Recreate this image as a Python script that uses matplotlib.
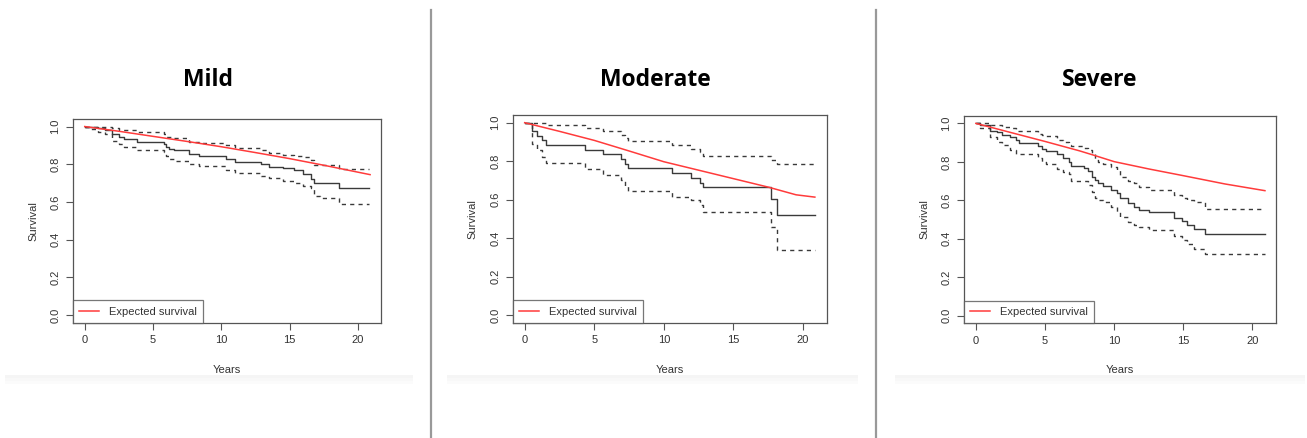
import matplotlib
matplotlib.use("Agg")
import matplotlib.pyplot as plt
from matplotlib.lines import Line2D
from matplotlib.patches import Rectangle

# ---------------- data ----------------
titles = ["Mild", "Moderate", "Severe"]
x_ticks = [0, 5, 10, 15, 20]
y_ticks = [0.0, 0.2, 0.4, 0.6, 0.8, 1.0]
y_ticklabels = ["0.0", "0.2", "0.4", "0.6", "0.8", "1.0"]

mild_t = [0, 0.3, 1.0, 1.5, 2.0, 2.5, 2.9, 3.85, 5.8, 5.95, 6.2, 6.55, 7.65, 8.4,
          10.35, 11.0, 12.9, 13.5, 14.5, 15.3, 16.0, 16.6, 16.8, 17.2, 18.6, 20.85]
mild_km = [1.0, 1.0, 0.99, 0.98, 0.96, 0.943, 0.935, 0.92, 0.908, 0.89, 0.88, 0.873, 0.855, 0.846,
           0.828, 0.814, 0.80, 0.788, 0.779, 0.77, 0.75, 0.72, 0.70, 0.70, 0.676, 0.676]
mild_lo = [1.0, 0.988, 0.97, 0.96, 0.925, 0.908, 0.894, 0.876, 0.864, 0.842, 0.828, 0.816, 0.80, 0.793,
           0.772, 0.754, 0.736, 0.726, 0.713, 0.70, 0.685, 0.672, 0.634, 0.62, 0.589, 0.589]
mild_hi = [1.0, 1.0, 1.0, 1.0, 0.99, 0.984, 0.984, 0.97, 0.961, 0.947, 0.942, 0.938, 0.92, 0.913,
           0.904, 0.885, 0.873, 0.86, 0.85, 0.845, 0.837, 0.82, 0.796, 0.796, 0.775, 0.775]
mild_exp_t = [0, 2.5, 5, 7.5, 10, 12.5, 15, 17.5, 20.9]
mild_exp = [1.0, 0.975, 0.948, 0.921, 0.893, 0.862, 0.83, 0.795, 0.745]

mod_t = [0, 0.5, 0.85, 1.25, 1.5, 4.3, 5.6, 6.9, 7.2, 7.4, 10.6, 11.95, 12.6, 12.8, 17.7, 18.1, 20.85]
mod_km = [1.0, 0.957, 0.93, 0.908, 0.886, 0.86, 0.836, 0.813, 0.787, 0.765, 0.74, 0.715, 0.689,
          0.666, 0.602, 0.519, 0.519]
mod_lo = [1.0, 0.891, 0.856, 0.822, 0.79, 0.761, 0.73, 0.70, 0.671, 0.644, 0.616, 0.597, 0.571,
          0.536, 0.458, 0.34, 0.34]
mod_hi = [1.0, 1.0, 1.0, 1.0, 0.986, 0.972, 0.957, 0.938, 0.92, 0.905, 0.886, 0.865, 0.85,
          0.827, 0.804, 0.784, 0.784]
mod_exp_t = [0, 2.5, 5, 7.5, 10, 12.5, 15, 17.5, 18.5, 19.5, 20.85]
mod_exp = [1.0, 0.955, 0.908, 0.853, 0.797, 0.753, 0.709, 0.665, 0.645, 0.625, 0.613]

sev_t = [0, 0.3, 1.0, 1.5, 1.9, 2.5, 2.9, 3.1, 4.5, 4.8, 5.1, 5.9, 6.3, 6.7, 6.9, 7.8, 8.1, 8.4,
         8.6, 8.8, 9.2, 9.8, 10.2, 10.4, 11.0, 11.4, 11.8, 12.5, 14.3, 14.9, 15.3, 15.8, 16.6, 20.9]
sev_km = [1.0, 0.99, 0.963, 0.953, 0.94, 0.927, 0.915, 0.897, 0.88, 0.868, 0.854, 0.84, 0.822,
          0.798, 0.78, 0.767, 0.753, 0.723, 0.706, 0.688, 0.676, 0.653, 0.636, 0.613, 0.584,
          0.563, 0.552, 0.537, 0.51, 0.493, 0.47, 0.448, 0.422, 0.422]
sev_lo = [1.0, 0.975, 0.927, 0.902, 0.888, 0.862, 0.84, 0.84, 0.819, 0.80, 0.787, 0.761, 0.745,
          0.735, 0.70, 0.70, 0.68, 0.645, 0.61, 0.60, 0.592, 0.566, 0.537, 0.514, 0.488, 0.47,
          0.462, 0.444, 0.415, 0.395, 0.371, 0.348, 0.322, 0.322]
sev_hi = [1.0, 1.0, 0.993, 0.99, 0.979, 0.975, 0.962, 0.962, 0.944, 0.937, 0.932, 0.915, 0.905,
          0.888, 0.88, 0.871, 0.86, 0.845, 0.81, 0.80, 0.787, 0.772, 0.758, 0.723, 0.70, 0.688,
          0.671, 0.653, 0.627, 0.61, 0.60, 0.589, 0.557, 0.557]
sev_exp_t = [0, 2.5, 5, 7.5, 8.5, 10, 12.5, 15, 18, 20.9]
sev_exp = [1.0, 0.953, 0.906, 0.857, 0.835, 0.801, 0.763, 0.728, 0.685, 0.65]

panels = [
    (mild_t, mild_km, mild_lo, mild_hi, mild_exp_t, mild_exp),
    (mod_t, mod_km, mod_lo, mod_hi, mod_exp_t, mod_exp),
    (sev_t, sev_km, sev_lo, sev_hi, sev_exp_t, sev_exp),
]

# ---------------- layout (pixels) ----------------
W, H = 1307, 438
boxes = [(73, 119, 381, 322.7), (512.7, 115, 826.7, 322.7), (964, 115.7, 1276, 323.3)]
title_x = [208, 655, 1100]
bands = [(5, 413), (447, 858), (895, 1305)]

FONT = "Liberation Sans"
AXC = "#555555"
LINEC = "#3a3a3a"
RED = "#ff3b3b"

fig = plt.figure(figsize=(W / 100, H / 100), dpi=100)
fig.patch.set_facecolor("white")

# separators
for xs in (431, 876):
    fig.add_artist(Line2D([xs / W, xs / W], [0, 1 - 10 / H], color="#999999", lw=1.6,
                          transform=fig.transFigure))
# faint bands beneath panels
for (x0, x1) in bands:
    for k, c in enumerate(["#f5f5f5", "#f8f8f8", "#fbfbfb"]):
        fig.patches.append(Rectangle((x0 / W, 1 - (375 + 3 * k + 3) / H), (x1 - x0) / W, 3 / H,
                                     transform=fig.transFigure, facecolor=c, edgecolor="none",
                                     zorder=0))

for i, (box, pdata) in enumerate(zip(boxes, panels)):
    l, t, r, b = box
    ax = fig.add_axes([l / W, 1 - b / H, (r - l) / W, (b - t) / H])
    tt, km, lo, hi, et, ev = pdata
    ax.step(tt, km, where="post", color=LINEC, lw=1.0)
    ax.step(tt, lo, where="post", color=LINEC, lw=1.0, dashes=(3, 3))
    ax.step(tt, hi, where="post", color=LINEC, lw=1.0, dashes=(3, 3))
    ax.plot(et, ev, color=RED, lw=1.1, label="Expected survival")
    ax.set_xlim(-0.86, 21.7)
    ax.set_ylim(-0.04, 1.04)
    ax.set_xticks(x_ticks)
    ax.set_xticklabels([str(v) for v in x_ticks], fontsize=8, family=FONT, color="#333333")
    ax.set_yticks(y_ticks)
    ax.set_yticklabels(y_ticklabels, fontsize=8, family=FONT, color="#333333",
                       rotation=90, va="center")
    ax.tick_params(direction="out", length=5, width=0.8, color=AXC, pad=4)
    for s in ax.spines.values():
        s.set_color(AXC)
        s.set_linewidth(0.9)
    ax.set_xlabel("Years", fontsize=8, family=FONT, color="#333333", labelpad=14)
    ax.set_ylabel("Survival", fontsize=8, family=FONT, color="#333333", labelpad=9)
    leg = ax.legend(loc="lower left", borderaxespad=0, fancybox=False, edgecolor=AXC,
                    handlelength=1.8, handletextpad=0.9, borderpad=0.55,
                    prop={"family": FONT, "size": 8})
    leg.get_frame().set_linewidth(0.9)
    for txt in leg.get_texts():
        txt.set_color("#333333")
    fig.text(title_x[i] / W, 1 - 80 / H, titles[i], ha="center", va="center",
             fontsize=16.5, fontweight="bold", family="Open Sans")

fig.savefig("out.png", dpi=100)
